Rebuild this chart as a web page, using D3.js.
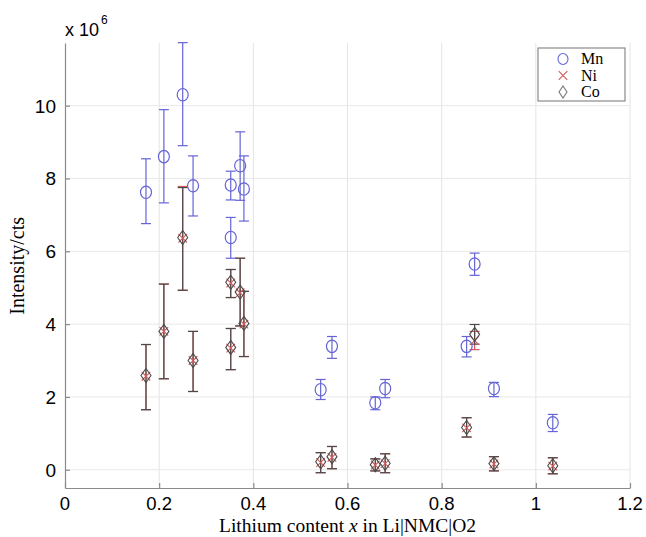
<!DOCTYPE html>
<html>
<head>
<meta charset="utf-8">
<script src="https://cdn.jsdelivr.net/npm/d3@7"></script>
<style>
  body { margin: 0; background: white; }
</style>
</head>
<body>
<div id="chart"></div>
<script>
// lithium content x of each sample
var lithium = [0.172, 0.21, 0.25, 0.272, 0.352, 0.352, 0.372, 0.38, 0.543, 0.567, 0.659, 0.68, 0.853, 0.87, 0.911, 1.036];

// intensities in units of 1e6 cts
var mnVals = [7.62, 8.6, 10.3, 7.8, 7.82, 6.38, 8.35, 7.71, 2.2, 3.39, 1.84, 2.23, 3.39, 5.65, 2.23, 1.29];
var mnHigh = [8.54, 9.89, 11.73, 8.62, 8.2, 6.93, 9.28, 8.62, 2.48, 3.66, 2.0, 2.48, 3.66, 5.95, 2.4, 1.52];
var mnLow  = [6.76, 7.33, 8.9, 6.97, 7.41, 5.81, 7.4, 6.83, 1.93, 3.06, 1.65, 1.98, 3.1, 5.34, 2.01, 1.05];

var niVals = [2.57, 3.8, 6.36, 3.0, 5.13, 3.34, 4.86, 4.0, 0.2, 0.34, 0.13, 0.17, 1.15, 3.55, 0.16, 0.1];
var niHigh = [3.44, 5.1, 7.78, 3.8, 5.5, 3.88, 5.81, 4.9, 0.47, 0.64, 0.3, 0.44, 1.43, 3.8, 0.36, 0.33];
var niLow  = [1.65, 2.5, 4.93, 2.15, 4.73, 2.75, 3.95, 3.11, -0.08, 0.03, -0.03, -0.08, 0.9, 3.3, -0.03, -0.11];

var coVals = [2.59, 3.8, 6.38, 3.0, 5.15, 3.36, 4.88, 4.02, 0.22, 0.36, 0.14, 0.18, 1.16, 3.72, 0.17, 0.11];
var coHigh = [3.44, 5.1, 7.75, 3.8, 5.5, 3.88, 5.81, 4.9, 0.47, 0.64, 0.3, 0.44, 1.43, 3.99, 0.36, 0.33];
var coLow  = [1.65, 2.5, 4.93, 2.15, 4.73, 2.75, 3.95, 3.11, -0.08, 0.03, -0.03, -0.08, 0.9, 3.45, -0.03, -0.11];

var xTicks = [0, 0.2, 0.4, 0.6, 0.8, 1, 1.2];
var yTicks = [0, 2, 4, 6, 8, 10];
var legendNames = ["Mn", "Ni", "Co"];

function init() {

    var w = 646;
    var h = 537;
    var margin = {top: 43, right: 16, bottom: 49, left: 65};

    var svg = d3.select("#chart")
        .append("svg")
        .attr("width", w)
        .attr("height", h);

    var xScale = d3.scaleLinear()
        .domain([0, 1.2])
        .range([margin.left, w - margin.right]);

    var yScale = d3.scaleLinear()
        .domain([-0.5, 11.72])
        .range([h - margin.bottom, margin.top]);

    var tickFont = "'Liberation Sans', Arial, sans-serif";
    var serifFont = "'Liberation Serif', 'Times New Roman', serif";
    var axisGray = "#8a8a8a";

    // grid lines
    svg.append("g")
        .selectAll("line.vg")
        .data(xTicks.slice(1))
        .enter()
        .append("line")
        .attr("x1", d => xScale(d))
        .attr("x2", d => xScale(d))
        .attr("y1", yScale(-0.5))
        .attr("y2", margin.top)
        .attr("stroke", "#e4e4e4")
        .attr("stroke-width", 1);

    svg.append("g")
        .selectAll("line.hg")
        .data(yTicks)
        .enter()
        .append("line")
        .attr("x1", xScale(0))
        .attr("x2", xScale(1.2))
        .attr("y1", d => yScale(d))
        .attr("y2", d => yScale(d))
        .attr("stroke", "#e8e8e8")
        .attr("stroke-width", 1);

    // axes, matlab style ticks pointing inward
    var xAxis = d3.axisTop(xScale)
        .tickValues(xTicks)
        .tickFormat("")
        .tickSize(5)
        .tickSizeOuter(0);

    var gx = svg.append("g")
        .attr("transform", "translate(0," + yScale(-0.5) + ")")
        .call(xAxis);
    gx.selectAll("line, path").attr("stroke", axisGray).attr("stroke-width", 1.2);

    var yAxis = d3.axisRight(yScale)
        .tickValues(yTicks)
        .tickFormat("")
        .tickSize(5)
        .tickSizeOuter(0);

    var gy = svg.append("g")
        .attr("transform", "translate(" + xScale(0) + ",0)")
        .call(yAxis);
    gy.selectAll("line, path").attr("stroke", axisGray).attr("stroke-width", 1.2);

    // tick labels
    svg.append("g")
        .selectAll("text")
        .data(xTicks)
        .enter()
        .append("text")
        .attr("x", d => xScale(d))
        .attr("y", yScale(-0.5) + 22)
        .attr("text-anchor", "middle")
        .attr("font-family", tickFont)
        .attr("font-size", "18.5px")
        .text(d => d3.format("~g")(d));

    svg.append("g")
        .selectAll("text")
        .data(yTicks)
        .enter()
        .append("text")
        .attr("x", xScale(0) - 9)
        .attr("y", d => yScale(d) + 7)
        .attr("text-anchor", "end")
        .attr("font-family", tickFont)
        .attr("font-size", "19px")
        .text(d => d);

    var expo = svg.append("text")
        .attr("x", 65)
        .attr("y", 36)
        .attr("font-family", tickFont)
        .attr("font-size", "18px")
        .text("x 10");
    expo.append("tspan")
        .attr("dy", -12)
        .attr("dx", 2)
        .attr("font-size", "12px")
        .text("6");

    // axis titles
    var xLabel = svg.append("text")
        .attr("x", xScale(0.6))
        .attr("y", 532)
        .attr("text-anchor", "middle")
        .attr("font-family", serifFont)
        .attr("font-size", "19.5px");
    xLabel.append("tspan").text("Lithium content ");
    xLabel.append("tspan").attr("font-style", "italic").text("x");
    xLabel.append("tspan").text(" in Li|NMC|O2");

    svg.append("text")
        .attr("transform", "translate(24," + yScale(5.6) + ") rotate(-90)")
        .attr("text-anchor", "middle")
        .attr("font-family", serifFont)
        .attr("font-size", "20px")
        .text("Intensity/cts");

    // series
    var mnColor = "#6464d8";
    var niColor = "#d65a5a";
    var coColor = "#4a4a4a";

    function errorBars(vals, lows, highs, color) {
        var g = svg.append("g");
        lithium.forEach(function(x, i) {
            var cx = xScale(x);
            g.append("line")
                .attr("x1", cx).attr("x2", cx)
                .attr("y1", yScale(lows[i])).attr("y2", yScale(highs[i]))
                .attr("stroke", color).attr("stroke-width", 1.2);
            [lows[i], highs[i]].forEach(function(v) {
                g.append("line")
                    .attr("x1", cx - 5).attr("x2", cx + 5)
                    .attr("y1", yScale(v)).attr("y2", yScale(v))
                    .attr("stroke", color).attr("stroke-width", 1.2);
            });
        });
    }

    errorBars(niVals, niLow, niHigh, niColor);
    errorBars(coVals, coLow, coHigh, coColor);
    errorBars(mnVals, mnLow, mnHigh, mnColor);

    var cross = d3.symbol().type(d3.symbolX).size(50);
    var diamond = "M0,-7L5,0L0,7L-5,0Z";

    svg.append("g")
        .selectAll("path")
        .data(niVals)
        .enter()
        .append("path")
        .attr("d", cross)
        .attr("transform", (d, i) => "translate(" + xScale(lithium[i]) + "," + yScale(d) + ")")
        .attr("fill", "none")
        .attr("stroke", niColor)
        .attr("stroke-width", 1.1);

    svg.append("g")
        .selectAll("path")
        .data(coVals)
        .enter()
        .append("path")
        .attr("d", diamond)
        .attr("transform", (d, i) => "translate(" + xScale(lithium[i]) + "," + yScale(d) + ")")
        .attr("fill", "none")
        .attr("stroke", coColor)
        .attr("stroke-width", 1.1);

    svg.append("g")
        .selectAll("ellipse")
        .data(mnVals)
        .enter()
        .append("ellipse")
        .attr("cx", (d, i) => xScale(lithium[i]))
        .attr("cy", d => yScale(d))
        .attr("rx", 5.5)
        .attr("ry", 6.2)
        .attr("fill", "none")
        .attr("stroke", mnColor)
        .attr("stroke-width", 1.2);

    // legend
    var legend = svg.append("g").attr("transform", "translate(538,48)");
    legend.append("rect")
        .attr("width", 87)
        .attr("height", 53)
        .attr("fill", "white")
        .attr("stroke", "#8a8a8a")
        .attr("stroke-width", 1.2);

    legendNames.forEach(function(name, i) {
        var ly = 11 + i * 16.5;
        if (i === 0) {
            legend.append("ellipse").attr("cx", 25).attr("cy", ly).attr("rx", 5).attr("ry", 5.5)
                .attr("fill", "none").attr("stroke", mnColor).attr("stroke-width", 1.1);
        } else if (i === 1) {
            legend.append("path").attr("d", cross).attr("transform", "translate(25," + ly + ")")
                .attr("fill", "none").attr("stroke", niColor).attr("stroke-width", 1.1);
        } else {
            legend.append("path").attr("d", "M0,-6L4,0L0,6L-4,0Z").attr("transform", "translate(25," + ly + ")")
                .attr("fill", "none").attr("stroke", "#777").attr("stroke-width", 1.1);
        }
        legend.append("text")
            .attr("x", 43)
            .attr("y", ly + 5)
            .attr("font-family", serifFont)
            .attr("font-size", "16px")
            .text(name);
    });
}

window.onload = init;
</script>
</body>
</html>
